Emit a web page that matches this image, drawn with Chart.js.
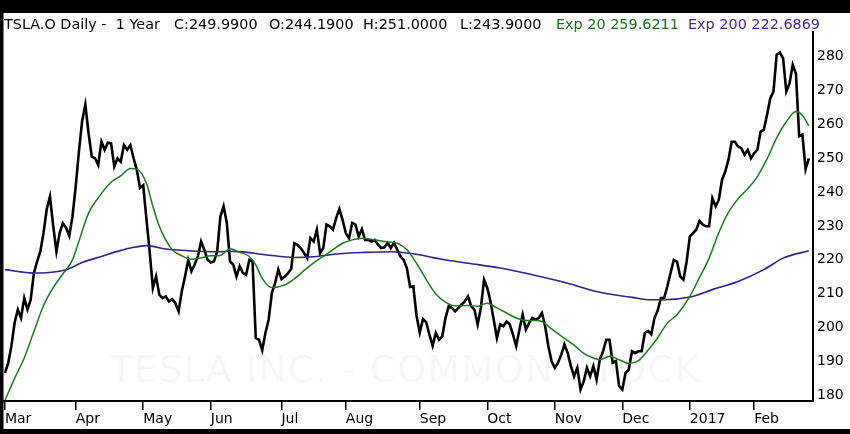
<!DOCTYPE html>
<html>
<head>
<meta charset="utf-8">
<script src="https://cdn.jsdelivr.net/npm/chart.js@4.4.1/dist/chart.umd.min.js"></script>
<style>
  html, body { margin: 0; padding: 0; background: #000; }
  #wrap { position: relative; width: 850px; height: 434px; overflow: hidden; }
  #chart { position: absolute; left: 0; top: 0; }
  .hdr { position: absolute; top: 15px; font: 14.4px "DejaVu Sans", sans-serif; white-space: pre; line-height: 18px; }
</style>
</head>
<body>
<div id="wrap">
  <canvas id="chart" width="850" height="434"></canvas>
  <div id="header"></div>
</div>
<script>
// daily closes, one per trading day from 1 Mar 2016
const closes = [
  186.6, 189.5, 194.5, 201.4, 205.3, 202.8, 208.7, 205.3, 208.2, 216.1,
  219.5, 222.5, 228.0, 235.0, 238.7, 230.0, 222.5, 227.9, 230.8, 229.5,
  227.1, 232.8, 241.7, 252.0, 261.0, 265.8, 257.4, 250.5, 250.0, 248.0,
  254.9, 252.5, 254.6, 254.4, 247.6, 250.0, 249.0, 253.9, 252.5, 253.9,
  250.0, 246.6, 241.2, 242.0, 232.0, 222.5, 211.7, 215.1, 209.7, 208.7,
  209.2, 207.7, 208.4, 207.2, 204.8, 210.7, 215.1, 220.0, 216.6, 218.6,
  221.0, 225.4, 223.0, 220.0, 219.2, 219.5, 222.5, 232.8, 235.8, 230.9,
  219.5, 218.6, 215.1, 218.1, 216.1, 215.6, 220.0, 219.5, 196.9, 196.4,
  193.3, 198.4, 202.3, 210.2, 213.1, 217.1, 214.3, 215.1, 216.0, 217.3,
  224.9, 224.4, 223.5, 222.0, 220.5, 226.4, 225.4, 228.9, 222.0, 223.5,
  230.4, 229.9, 228.9, 232.3, 235.0, 231.8, 227.9, 226.4, 230.9, 230.4,
  226.9, 229.1, 225.9, 225.9, 225.4, 225.9, 224.5, 223.5, 223.7, 225.0,
  223.5, 225.0, 223.0, 221.0, 220.0, 217.5, 212.0, 212.2, 203.5, 198.5,
  202.5, 201.6, 197.9, 194.6, 198.4, 196.4, 197.4, 202.8, 206.3, 205.8,
  204.8, 205.8, 206.8, 207.7, 209.2, 206.3, 205.3, 200.9, 205.8, 214.1,
  211.7, 207.7, 202.3, 196.9, 200.9, 200.4, 201.8, 200.9, 197.9, 194.5,
  199.4, 203.8, 199.4, 201.3, 202.8, 202.3, 202.8, 204.3, 200.4, 194.5,
  190.0, 188.1, 189.6, 192.0, 195.0, 192.5, 188.6, 185.6, 188.1, 181.7,
  184.1, 188.1, 185.6, 188.6, 184.6, 190.5, 193.0, 196.4, 196.4, 189.6,
  190.1, 182.7, 181.7, 186.6, 187.6, 193.0, 192.5, 193.0, 193.0, 198.4,
  199.0, 198.0, 202.8, 205.0, 208.7, 208.7, 212.2, 216.1, 220.0, 219.5,
  215.1, 214.1, 219.5, 226.9, 227.9, 228.9, 231.5, 230.4, 229.9, 229.9,
  238.2, 235.8, 237.7, 243.6, 246.1, 249.5, 254.9, 254.9, 253.5, 253.0,
  251.0, 252.5, 250.0, 251.5, 252.5, 257.9, 258.4, 262.8, 267.7, 269.7,
  280.6, 281.2, 279.5, 269.7, 272.1, 277.6, 275.0, 256.5, 257.0, 246.8,
  249.99
];

// moving averages (day index, value)
const ema20Days = [0, 3, 6, 9, 12, 15, 18, 21, 23, 26, 29, 33, 36, 39, 41, 44, 46, 48, 50, 52,
  55, 58, 61, 64, 67, 70, 73, 76, 78, 80, 83, 87, 90, 93, 96, 99, 102, 105, 108, 111,
  115, 119, 122, 125, 128, 131, 134, 137, 140, 144, 147, 150, 153, 156, 159, 162, 165, 167, 170, 174,
  177, 180, 183, 185, 188, 191, 194, 197, 200, 203, 206, 209, 213, 216, 219, 222, 225, 228, 231, 234,
  237, 240, 243, 246, 248, 250];
const ema20 = [178.5, 185.0, 191.0, 198.8, 206.5, 211.8, 215.8, 220.0, 225.5, 233.8, 238.3, 242.9, 244.8, 247.0, 246.8, 242.6, 235.8, 229.9, 225.9, 223.0,
  221.2, 220.2, 220.6, 221.2, 221.3, 223.3, 222.2, 221.0, 218.5, 214.5, 211.8, 212.6, 214.4, 216.8, 219.1, 221.0, 223.0, 224.9, 225.9, 226.4,
  225.9, 225.3, 224.9, 223.0, 219.0, 214.2, 209.9, 207.5, 206.4, 206.5, 206.3, 207.2, 205.8, 204.3, 202.8, 202.1, 202.1, 201.8, 199.6, 196.8,
  194.8, 192.4, 191.0, 190.5, 191.5, 190.5, 189.4, 190.2, 193.3, 197.0, 201.3, 203.8, 209.2, 214.8, 220.5, 228.0, 234.0, 238.0, 241.0, 244.6,
  249.8, 256.0, 260.8, 263.8, 262.7, 259.6];

const ema200Days = [0, 9, 19, 24, 30, 35, 40, 44, 50, 57, 66, 71, 81, 90, 97, 104, 112, 120, 127, 135,
  144, 154, 164, 175, 185, 195, 201, 205, 213, 220, 228, 236, 242, 250];
const ema200 = [217.1, 216.1, 217.1, 219.2, 221.0, 222.5, 223.7, 224.2, 223.2, 222.7, 222.4, 222.5, 221.5, 220.7, 221.0, 221.8, 222.2, 222.4, 221.8, 220.3,
  219.0, 217.6, 215.6, 213.1, 210.4, 208.9, 208.2, 208.2, 209.0, 211.2, 213.6, 217.1, 220.5, 222.7];

const monthTicks = [0, 22, 43, 64, 86, 106, 129, 150, 171, 192, 213, 233];
const monthLabels = ['Mar', 'Apr', 'May', 'Jun', 'Jul', 'Aug', 'Sep', 'Oct', 'Nov', 'Dec', '2017', 'Feb'];
const priceTicks = [180, 190, 200, 210, 220, 230, 240, 250, 260, 270, 280];

const headerParts = [
  ['TSLA.O Daily -  1 Year', 4, '#000'],
  ['C:249.9900', 174, '#000'],
  ['O:244.1900', 269, '#000'],
  ['H:251.0000', 363, '#000'],
  ['L:243.9000', 460, '#000'],
  ['Exp 20 259.6211', 556, '#1c6e1c'],
  ['Exp 200 222.6869', 688, '#45288c']
];
const watermark = 'TESLA INC. - COMMON STOCK';

const GREEN = '#1f7a1f';
const PURPLE = '#36208f';
const FONT = 'DejaVu Sans';

const header = document.getElementById('header');
headerParts.forEach(([txt, left, color]) => {
  const s = document.createElement('span');
  s.className = 'hdr';
  s.textContent = txt;
  s.style.left = left + 'px';
  s.style.color = color;
  header.appendChild(s);
});

const frame = {
  id: 'frame',
  beforeDraw(chart) {
    const ctx = chart.ctx;
    ctx.save();
    ctx.fillStyle = '#000';
    ctx.fillRect(0, 0, chart.width, chart.height);
    ctx.fillStyle = '#fff';
    ctx.fillRect(3.5, 13, chart.width, 416);
    ctx.restore();
  },
  beforeDatasetsDraw(chart) {
    const ctx = chart.ctx;
    ctx.save();
    ctx.font = '37px "' + FONT + '"';
    ctx.fillStyle = 'rgba(0,0,0,0.03)';
    ctx.textBaseline = 'alphabetic';
    const chars = watermark.split('');
    const plain = ctx.measureText(watermark).width;
    const gap = (590 - plain) / (chars.length - 1);
    let x = 110;
    chars.forEach(c => {
      ctx.fillText(c, x, 382);
      x += ctx.measureText(c).width + gap;
    });
    ctx.restore();
  }
};

new Chart(document.getElementById('chart'), {
  type: 'line',
  data: {
    datasets: [
      {
        label: 'Close',
        data: closes.map((v, i) => ({ x: i, y: v })),
        borderColor: '#000',
        borderWidth: 2.6,
        pointRadius: 0,
        tension: 0,
        order: 3
      },
      {
        label: 'Exp 20',
        data: ema20Days.map((d, i) => ({ x: d, y: ema20[i] })),
        borderColor: GREEN,
        borderWidth: 1.5,
        pointRadius: 0,
        cubicInterpolationMode: 'monotone',
        order: 1
      },
      {
        label: 'Exp 200',
        data: ema200Days.map((d, i) => ({ x: d, y: ema200[i] })),
        borderColor: PURPLE,
        borderWidth: 1.6,
        pointRadius: 0,
        cubicInterpolationMode: 'monotone',
        order: 2
      }
    ]
  },
  options: {
    responsive: false,
    animation: false,
    devicePixelRatio: 1,
    layout: { padding: { top: 32, left: 4, right: 0, bottom: 0 } },
    plugins: { legend: { display: false }, tooltip: { enabled: false } },
    scales: {
      x: {
        type: 'linear',
        min: -0.3,
        max: 251.3,
        afterBuildTicks: s => { s.ticks = monthTicks.map(v => ({ value: v })); },
        afterFit: s => { s.height = 33; },
        ticks: {
          autoSkip: false,
          maxRotation: 0,
          align: 'start',
          padding: 1,
          color: '#000',
          font: { family: FONT, size: 14 },
          callback: v => monthLabels[monthTicks.indexOf(v)]
        },
        grid: { drawOnChartArea: false, drawTicks: true, tickLength: 9, color: '#000', lineWidth: 1.5 },
        border: { display: true, color: '#000', width: 2 }
      },
      y: {
        position: 'right',
        min: 178.3,
        max: 287.3,
        afterBuildTicks: s => { s.ticks = priceTicks.map(v => ({ value: v })); },
        afterFit: s => { s.width = 37; },
        ticks: { padding: 4, color: '#000', font: { family: FONT, size: 14 } },
        grid: { drawOnChartArea: false, drawTicks: false },
        border: { display: true, color: '#000', width: 2 }
      }
    }
  },
  plugins: [frame]
});
</script>
</body>
</html>
